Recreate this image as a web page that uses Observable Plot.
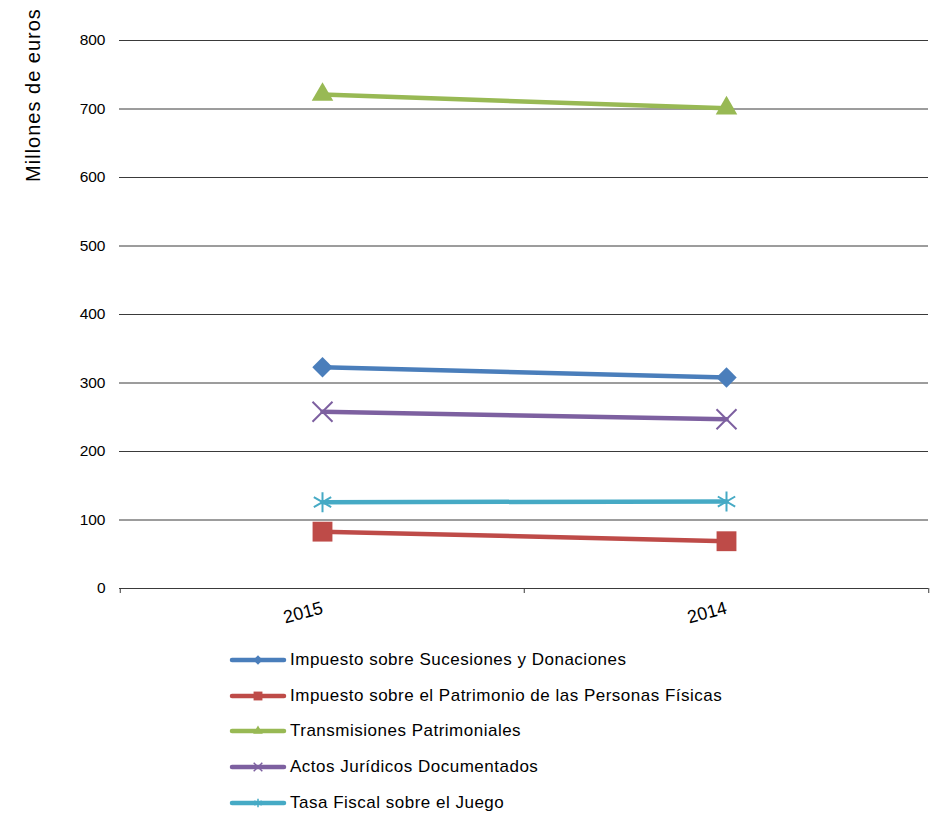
<!DOCTYPE html>
<html>
<head>
<meta charset="utf-8">
<script src="https://cdn.jsdelivr.net/npm/d3@7"></script>
<script src="https://cdn.jsdelivr.net/npm/@observablehq/plot@0.6"></script>
<style>
  html, body { margin: 0; padding: 0; background: #fff; }
  #wrap { position: relative; width: 931px; height: 818px; font-family: "Liberation Sans", Arial, sans-serif; }
  #ylab { position: absolute; left: 33px; top: 95px; transform: translate(-50%, -50%) rotate(-90deg);
          white-space: nowrap; font-size: 20px; letter-spacing: 1px; color: #000; }
  #legend { padding-left: 228px; margin-top: 2px; }
  .row { display: flex; align-items: center; height: 35.8px; font-size: 17px; letter-spacing: 0.5px; color: #000; }
  .row svg { display: block; margin-right: 2px; }
</style>
</head>
<body>
<div id="wrap">
  <div id="chart"></div>
  <div id="ylab">Millones de euros</div>
  <div id="legend"></div>
</div>
<script>
// ---- data ----
const categories = ["2015", "2014"];
const seriesNames = [
  "Impuesto sobre Sucesiones y Donaciones",
  "Impuesto sobre el Patrimonio de las Personas Físicas",
  "Transmisiones Patrimoniales",
  "Actos Jurídicos Documentados",
  "Tasa Fiscal sobre el Juego"
];
const sucesiones = [323, 308];
const patrimonio = [83, 69];
const transmisiones = [721, 701];
const actos = [258, 247];
const juego = [126, 127];
const yTicks = [0, 100, 200, 300, 400, 500, 600, 700, 800];
const yLabel = "Millones de euros";

// ---- styles ----
const colors = ["#4A7EBB", "#BE4B48", "#98B954", "#7D60A0", "#46AAC5"];
const markers = [
  {symbol: "diamond2", r: 9.2, filled: true, lr: 4.2},
  {symbol: "square", r: 11.2, filled: true, lr: 5},
  {symbol: "triangle", r: 8, filled: true, lr: 3.6},
  {symbol: "times", r: 9.15, filled: false, lr: 4},
  {symbol: "asterisk", r: 9.5, filled: false, lr: 4}
];

const allValues = [sucesiones, patrimonio, transmisiones, actos, juego];
const data = [];
seriesNames.forEach((s, i) => {
  categories.forEach((c, j) => data.push({series: s, year: c, value: allValues[i][j]}));
});

const W = 931, H = 640, mL = 119, mR = 3;
const bw = (W - mL - mR) / categories.length;

const dotMarks = seriesNames.map((s, i) => {
  const m = markers[i];
  const rows = data.filter(d => d.series === s);
  return m.filled
    ? Plot.dot(rows, {x: "year", y: "value", symbol: () => m.symbol, r: m.r, fill: colors[i], stroke: "none"})
    : Plot.dot(rows, {x: "year", y: "value", symbol: () => m.symbol, r: m.r, fill: "none", stroke: colors[i], strokeWidth: 2});
});

const chart = Plot.plot({
  width: W, height: H,
  marginLeft: mL, marginRight: mR, marginTop: 40, marginBottom: 52,
  style: {fontFamily: "Liberation Sans, Arial, sans-serif", color: "#000", background: "#fff"},
  x: {type: "band", domain: categories, padding: 0, label: null},
  y: {domain: [0, 800], label: null},
  symbol: {type: "identity"},
  color: {domain: seriesNames, range: colors},
  marks: [
    Plot.gridY(yTicks, {stroke: "#3a3a3a", strokeOpacity: 1}),
    Plot.axisY(yTicks, {tickSize: 0, tickPadding: 14, fontSize: 15.5, label: null}),
    Plot.axisX(categories, {tickSize: 0, tickPadding: 19, tickRotate: -15, textAnchor: "end", lineAnchor: "middle", fontSize: 18, label: null}),
    Plot.axisX(categories, {tickSize: 5, text: null, dx: -bw / 2, stroke: "#3a3a3a", label: null}),
    Plot.axisX([categories[categories.length - 1]], {tickSize: 5, text: null, dx: bw / 2, stroke: "#3a3a3a", label: null}),
    Plot.ruleY([0], {stroke: "#3a3a3a"}),
    Plot.line(data, {x: "year", y: "value", z: "series", stroke: "series", strokeWidth: 4.5}),
    ...dotMarks
  ]
});
document.getElementById("chart").appendChild(chart);
document.getElementById("ylab").textContent = yLabel;

// ---- legend ----
const legend = d3.select("#legend");
seriesNames.forEach((s, i) => {
  const m = markers[i];
  const row = legend.append("div").attr("class", "row");
  const svg = row.append("svg").attr("width", 60).attr("height", 20);
  svg.append("line").attr("x1", 4).attr("x2", 56).attr("y1", 10).attr("y2", 10)
    .attr("stroke", colors[i]).attr("stroke-width", 4.5).attr("stroke-linecap", "round");
  const symMap = {diamond2: d3.symbolDiamond2, square: d3.symbolSquare, triangle: d3.symbolTriangle, times: d3.symbolTimes, asterisk: d3.symbolAsterisk};
  const p = d3.symbol(symMap[m.symbol], m.lr * m.lr * Math.PI)();
  const path = svg.append("path").attr("d", p).attr("transform", "translate(30,10)");
  if (m.filled) path.attr("fill", colors[i]);
  else path.attr("fill", "none").attr("stroke", colors[i]).attr("stroke-width", 1.5);
  row.append("span").text(s);
});
</script>
</body>
</html>
